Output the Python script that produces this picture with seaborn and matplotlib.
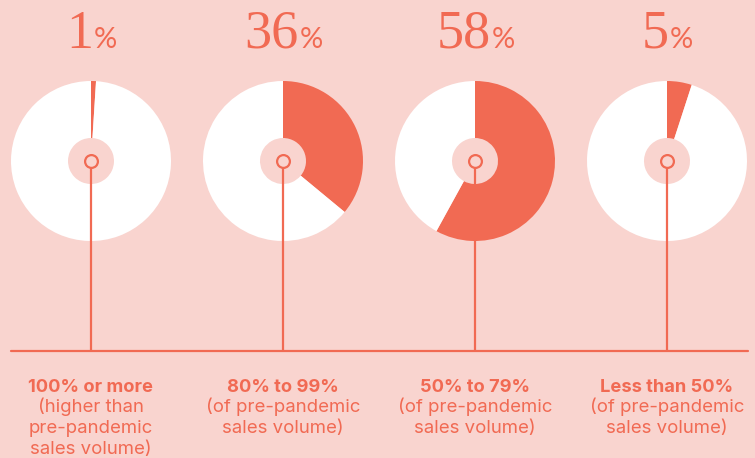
"""Donut row: share of retailers by sales volume vs pre-pandemic."""

import matplotlib
matplotlib.use("Agg")
import matplotlib.pyplot as plt
import numpy as np
import pandas as pd
import seaborn as sns

# data
shares = [1, 36, 58, 5]
bold_labels = ["100% or more", "80% to 99%", "50% to 79%", "Less than 50%"]
sub_labels = [
    ["(higher than", "pre-pandemic", "sales volume)"],
    ["(of pre-pandemic", "sales volume)"],
    ["(of pre-pandemic", "sales volume)"],
    ["(of pre-pandemic", "sales volume)"],
]

BG = "#F9D4CF"
ACCENT = "#F16A53"
W, H = 755, 458

sns.set_theme(style="white", rc={"axes.facecolor": BG, "figure.facecolor": BG})
plt.rcParams["font.family"] = ["Inter", "DejaVu Sans"]

fig = plt.figure(figsize=(W / 100, H / 100), dpi=100)
ax = fig.add_axes([0, 0, 1, 1])

centers_x = 91 + 192 * np.arange(len(shares))
cy = H - 161
radius, hole = 80, 23
base_y = H - 351

for cx, s in zip(centers_x, shares):
    ax.pie([s, 100 - s], colors=[ACCENT, "white"], startangle=90, counterclock=False,
           radius=radius, center=(cx, cy), wedgeprops=dict(width=radius - hole, linewidth=0))
    ax.plot([cx, cx], [cy - 6, base_y], color=ACCENT, lw=1.6, solid_capstyle="butt", zorder=3)

ax.plot([11, 748], [base_y, base_y], color=ACCENT, lw=1.6, zorder=3)

rings = pd.DataFrame({"x": centers_x, "y": [cy] * len(shares)})
sns.scatterplot(data=rings, x="x", y="y", s=85, color=BG, edgecolor=ACCENT,
                linewidth=1.6, zorder=4, ax=ax, legend=False)

# big percentages: serif number + smaller percent sign, centred as a pair
num_texts, pct_texts = [], []
for cx, s in zip(centers_x, shares):
    num_texts.append(ax.text(cx, H - 48, str(s), family="Liberation Serif", fontsize=39,
                             color=ACCENT, ha="right", va="baseline"))
    pct_texts.append(ax.text(cx, H - 48, "%", family="Lato", fontsize=21,
                             color=ACCENT, ha="left", va="baseline"))
fig.canvas.draw()
r = fig.canvas.get_renderer()
for cx, tn, tp in zip(centers_x, num_texts, pct_texts):
    wn = tn.get_window_extent(r).width
    wp = tp.get_window_extent(r).width
    split = cx + (wn - wp) / 2
    tn.set_x(split)
    tp.set_x(split + 1)

# bottom labels
for cx, b, subs in zip(centers_x, bold_labels, sub_labels):
    ax.text(cx, H - 392, b, fontsize=13.2, fontweight="bold", color=ACCENT,
            ha="center", va="baseline")
    for i, line in enumerate(subs):
        ax.text(cx, H - 412 - 21 * i, line, fontsize=13.4, color=ACCENT,
                ha="center", va="baseline")

ax.set_xlim(0, W)
ax.set_ylim(0, H)
ax.set_aspect("equal")
ax.axis("off")

fig.savefig("out.png", dpi=100, facecolor=BG)
